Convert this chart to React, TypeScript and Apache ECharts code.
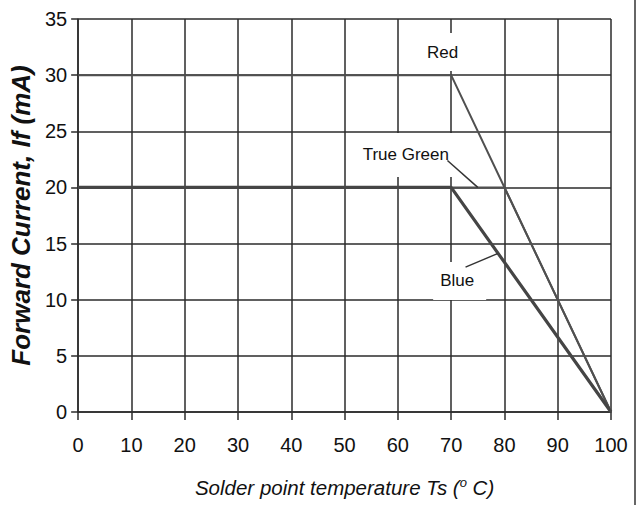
import React, { useEffect, useRef } from "react";
import * as echarts from "echarts";

// Derating curves: solder point temperature (°C) vs max forward current (mA)
const redTemp = [0, 70, 100];
const redCurrent = [30, 30, 0];
const greenTemp = [0, 80, 100];
const greenCurrent = [20, 20, 0];
const blueTemp = [0, 70, 100];
const blueCurrent = [20, 20, 0];

// Axis ranges / ticks
const xMin = 0, xMax = 100, xStep = 10;
const yMin = 0, yMax = 35, yStep = 5;

// Curve label anchors (data coordinates, text centres)
const labelNames = ["Red", "True Green", "Blue"];
const labelAnchors: number[][] = [
  [68.4, 32.06],
  [61.3, 22.89],
  [71.6, 11.67],
];
// Leader lines (data coordinates)
const greenLeader: number[][] = [
  [69.3, 22.4],
  [75.0, 20.0],
];
const blueLeader: number[][] = [
  [72.7, 12.9],
  [78.7, 14.1],
];

const NARROW = "'Liberation Sans Narrow', 'Liberation Sans', Arial, sans-serif";
const SANS = "'Liberation Sans', Arial, sans-serif";

function zip(xs: number[], ys: number[]) {
  return xs.map((x, i) => [x, ys[i]]);
}

export default function App() {
  const ref = useRef<HTMLDivElement>(null);
  useEffect(() => {
    if (!ref.current) return;
    const chart = echarts.init(ref.current, undefined, { renderer: "svg" });
    // padding [top, right, bottom, left] of the white box behind each label
    const labelPads = [
      [7, 9, 14, 9],
      [8, 6, 19, 8],
      [8, 12, 13, 7],
    ];
    const labelStyle = (i: number) => ({
      show: true,
      position: "inside",
      formatter: labelNames[i],
      color: "#111",
      fontFamily: NARROW,
      fontSize: 17,
      backgroundColor: "#fff",
      padding: labelPads[i],
    });
    const lineColor = "#505050";
    chart.setOption({
      animation: false,
      backgroundColor: "#fff",
      grid: { left: 76, right: 28, top: 19, bottom: 93, containLabel: false },
      xAxis: {
        type: "value",
        min: xMin,
        max: xMax,
        interval: xStep,
        name: "{a|Solder point temperature Ts (}{s|o}{a| C)}",
        nameLocation: "middle",
        nameGap: 64,
        nameTextStyle: {
          rich: {
            a: { fontFamily: NARROW, fontStyle: "italic", fontSize: 20.5, color: "#111" },
            s: { fontFamily: NARROW, fontStyle: "italic", fontSize: 13, color: "#111", padding: [0, 0, 9, 0] },
          },
        },
        axisLine: { show: true, lineStyle: { color: "#2b2b2b", width: 1.5 } },
        axisTick: { show: true, length: 8, lineStyle: { color: "#2b2b2b", width: 1.5 } },
        axisLabel: { margin: 23, color: "#111", fontFamily: NARROW, fontSize: 20 },
        splitLine: { show: true, lineStyle: { color: "#2b2b2b", width: 1.5 } },
      },
      yAxis: {
        type: "value",
        min: yMin,
        max: yMax,
        interval: yStep,
        name: "Forward Current, If (mA)",
        nameLocation: "middle",
        nameGap: 41,
        nameTextStyle: {
          fontFamily: SANS,
          fontStyle: "italic",
          fontWeight: "bold",
          fontSize: 26,
          color: "#111",
        },
        axisLine: { show: true, lineStyle: { color: "#2b2b2b", width: 1.5 } },
        axisTick: { show: true, length: 7, lineStyle: { color: "#2b2b2b", width: 1.5 } },
        axisLabel: { margin: 11, color: "#111", fontFamily: NARROW, fontSize: 20 },
        splitLine: { show: true, lineStyle: { color: "#2b2b2b", width: 1.5 } },
      },
      series: [
        {
          name: "True Green",
          type: "line",
          data: zip(greenTemp, greenCurrent),
          showSymbol: false,
          symbol: "none",
          lineStyle: { color: lineColor, width: 2 },
          z: 3,
          markPoint: {
            symbol: "circle",
            symbolSize: 0,
            silent: true,
            data: [{ coord: labelAnchors[1], label: labelStyle(1) }],
          },
        },
        {
          name: "Red",
          type: "line",
          data: zip(redTemp, redCurrent),
          showSymbol: false,
          symbol: "none",
          lineStyle: { color: lineColor, width: 2 },
          z: 4,
          markPoint: {
            symbol: "circle",
            symbolSize: 0,
            silent: true,
            data: [{ coord: labelAnchors[0], label: labelStyle(0) }],
          },
        },
        {
          name: "Blue",
          type: "line",
          data: zip(blueTemp, blueCurrent),
          showSymbol: false,
          symbol: "none",
          lineStyle: { color: "#454545", width: 3.2 },
          z: 5,
          markPoint: {
            symbol: "circle",
            symbolSize: 0,
            silent: true,
            data: [{ coord: labelAnchors[2], label: labelStyle(2) }],
          },
        },
        {
          name: "greenLeader",
          type: "line",
          data: greenLeader,
          showSymbol: false,
          symbol: "none",
          silent: true,
          lineStyle: { color: "#333", width: 1.5 },
          z: 10,
        },
        {
          name: "blueLeader",
          type: "line",
          data: blueLeader,
          showSymbol: false,
          symbol: "none",
          silent: true,
          lineStyle: { color: "#333", width: 1.5 },
          z: 10,
        },
      ],
      graphic: [
        {
          type: "line",
          shape: { x1: 635, y1: 0, x2: 635, y2: 505 },
          style: { stroke: "#333", lineWidth: 1.5 },
          silent: true,
        },
      ],
    });
    return () => chart.dispose();
  }, []);
  return (
    <div
      ref={ref}
      style={{ position: "fixed", left: 0, top: 0, width: 639, height: 505, background: "#fff" }}
    />
  );
}
